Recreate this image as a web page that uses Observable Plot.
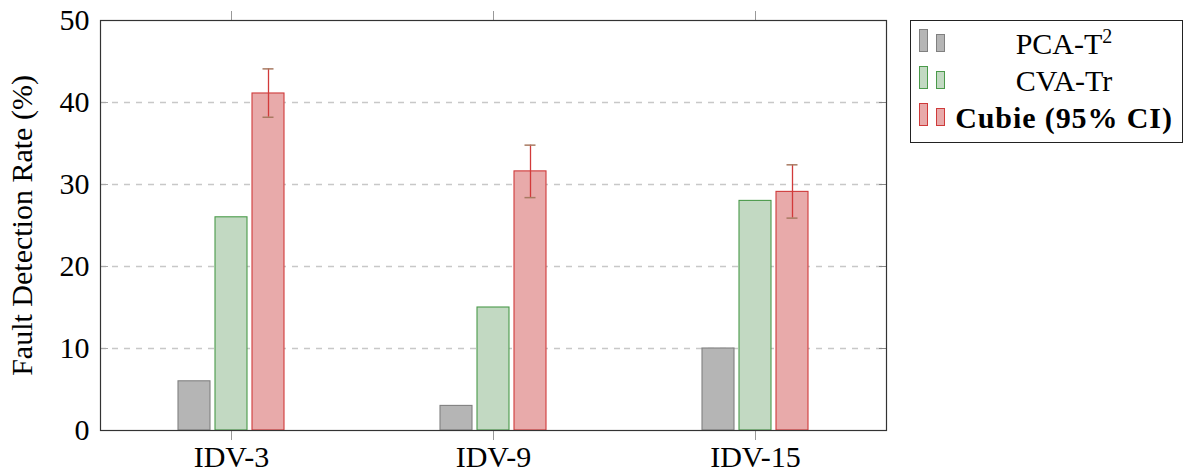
<!DOCTYPE html>
<html><head><meta charset="utf-8">
<script src="https://cdn.jsdelivr.net/npm/d3@7"></script>
<script src="https://cdn.jsdelivr.net/npm/@observablehq/plot@0.6"></script>
<style>
body{margin:0;background:#fff;}
#wrap{position:relative;width:1188px;height:474px;font-family:"Liberation Serif","DejaVu Serif",serif;color:#000;}
#legend{position:absolute;left:910px;top:20px;width:273px;height:123px;border:1px solid #222;box-sizing:border-box;background:#fff;}
.row{position:absolute;left:0;width:100%;height:37px;}
.row svg{position:absolute;left:0;top:0;}
.row .lab{position:absolute;left:37px;right:2px;top:0;height:37px;line-height:37px;text-align:center;font-size:30px;white-space:nowrap;}
.row .lab sup{font-size:20px;line-height:0;vertical-align:0.55em;}
.row .bold{font-weight:bold;letter-spacing:0.9px;}
</style></head><body><div id="wrap"></div>
<script>
const categories = ["IDV-3", "IDV-9", "IDV-15"];
const seriesKeys = ["pca", "cva", "cubie"];
const seriesBase = ["PCA-T", "CVA-Tr", "Cubie (95% CI)"];
const seriesSup = ["2", "", ""];
const pcaT2 = [6, 3, 10];
const cvaTr = [26, 15, 28];
const cubie = [41.1, 31.6, 29.1];
const cubieLow = [38.2, 28.4, 25.9];
const cubieHigh = [44.1, 34.8, 32.4];
const yTicks = [0, 10, 20, 30, 40, 50];
const gridTicks = [10, 20, 30, 40];

const fills = ["#b5b5b5", "#c2d9c2", "#e8aaaa"];
const strokes = ["#808080", "#4a9a4a", "#cf3a3a"];
const seriesValues = [pcaT2, cvaTr, cubie];

const bars = seriesKeys.map((k, s) => categories.map((c, i) => ({category: c, series: k, value: seriesValues[s][i]})));
const errs = categories.map((c, i) => ({category: c, series: "cubie", lo: cubieLow[i], hi: cubieHigh[i]}));

const barMarks = bars.map((data, s) => Plot.barY(data, {
  fx: "category", x: "series", y: "value",
  fill: fills[s], stroke: strokes[s], strokeWidth: 1.1
}));

const chart = Plot.plot({
  width: 1188, height: 474,
  marginLeft: 100, marginRight: 302, marginTop: 20, marginBottom: 44,
  style: {fontFamily: '"Liberation Serif","DejaVu Serif",serif', fontSize: "30px", color: "#000", background: "#fff", overflow: "visible"},
  fx: {domain: categories, padding: 0, label: null},
  x: {domain: seriesKeys, paddingInner: 0.1275, paddingOuter: 2.08, axis: null},
  y: {domain: [0, 50], label: null},
  marks: [
    Plot.gridY(gridTicks, {stroke: "#c8c8c8", strokeOpacity: 1, strokeWidth: 1.3, strokeDasharray: "6,6"}),
    ...barMarks,
    Plot.ruleX(errs, {fx: "category", x: "series", y1: "lo", y2: "hi", stroke: "#d23a3a", strokeWidth: 1.3}),
    Plot.tickY(errs, {fx: "category", x: "series", y: "lo", stroke: "#a87a62", strokeWidth: 1.5, insetLeft: 10.5, insetRight: 10.5}),
    Plot.tickY(errs, {fx: "category", x: "series", y: "hi", stroke: "#a87a62", strokeWidth: 1.5, insetLeft: 10.5, insetRight: 10.5}),
    Plot.axisY(yTicks, {anchor: "left", tickSize: 0, tickPadding: 11, fontSize: 30, label: "Fault Detection Rate (%)", labelAnchor: "center", labelOffset: 90, labelArrow: "none"}),
    Plot.axisY(gridTicks, {anchor: "left", tickSize: 8, dx: 8, tickFormat: () => "", label: null, stroke: "#aaa"}),
    Plot.axisY(gridTicks, {anchor: "right", tickSize: 8, dx: -8, tickFormat: () => "", label: null, stroke: "#888"}),
    Plot.axisFx({anchor: "bottom", tickSize: 10, tickPadding: 5, fontSize: 30, stroke: "#999", label: null}),
    Plot.axisFx({anchor: "top", tickSize: 10, tickFormat: () => "", stroke: "#999", label: null}),
    Plot.frame({stroke: "#333", strokeWidth: 1.2, facet: "super"})
  ]
});

const wrap = document.getElementById("wrap");
wrap.appendChild(chart);

const legend = d3.select(wrap).append("div").attr("id", "legend");
seriesKeys.forEach((k, s) => {
  const row = legend.append("div").attr("class", "row").style("top", (4 + s * 37) + "px");
  const svg = row.append("svg").attr("width", 36).attr("height", 37);
  svg.append("rect").attr("x", 8.5).attr("y", 4.5).attr("width", 8).attr("height", 22).attr("fill", fills[s]).attr("stroke", strokes[s]).attr("stroke-width", 1);
  svg.append("rect").attr("x", 25.5).attr("y", 9.5).attr("width", 8).attr("height", 17).attr("fill", fills[s]).attr("stroke", strokes[s]).attr("stroke-width", 1);
  const lab = row.append("div").attr("class", "lab" + (k === "cubie" ? " bold" : ""));
  lab.append("span").text(seriesBase[s]);
  if (seriesSup[s]) lab.append("sup").text(seriesSup[s]);
});
</script>
</body></html>
